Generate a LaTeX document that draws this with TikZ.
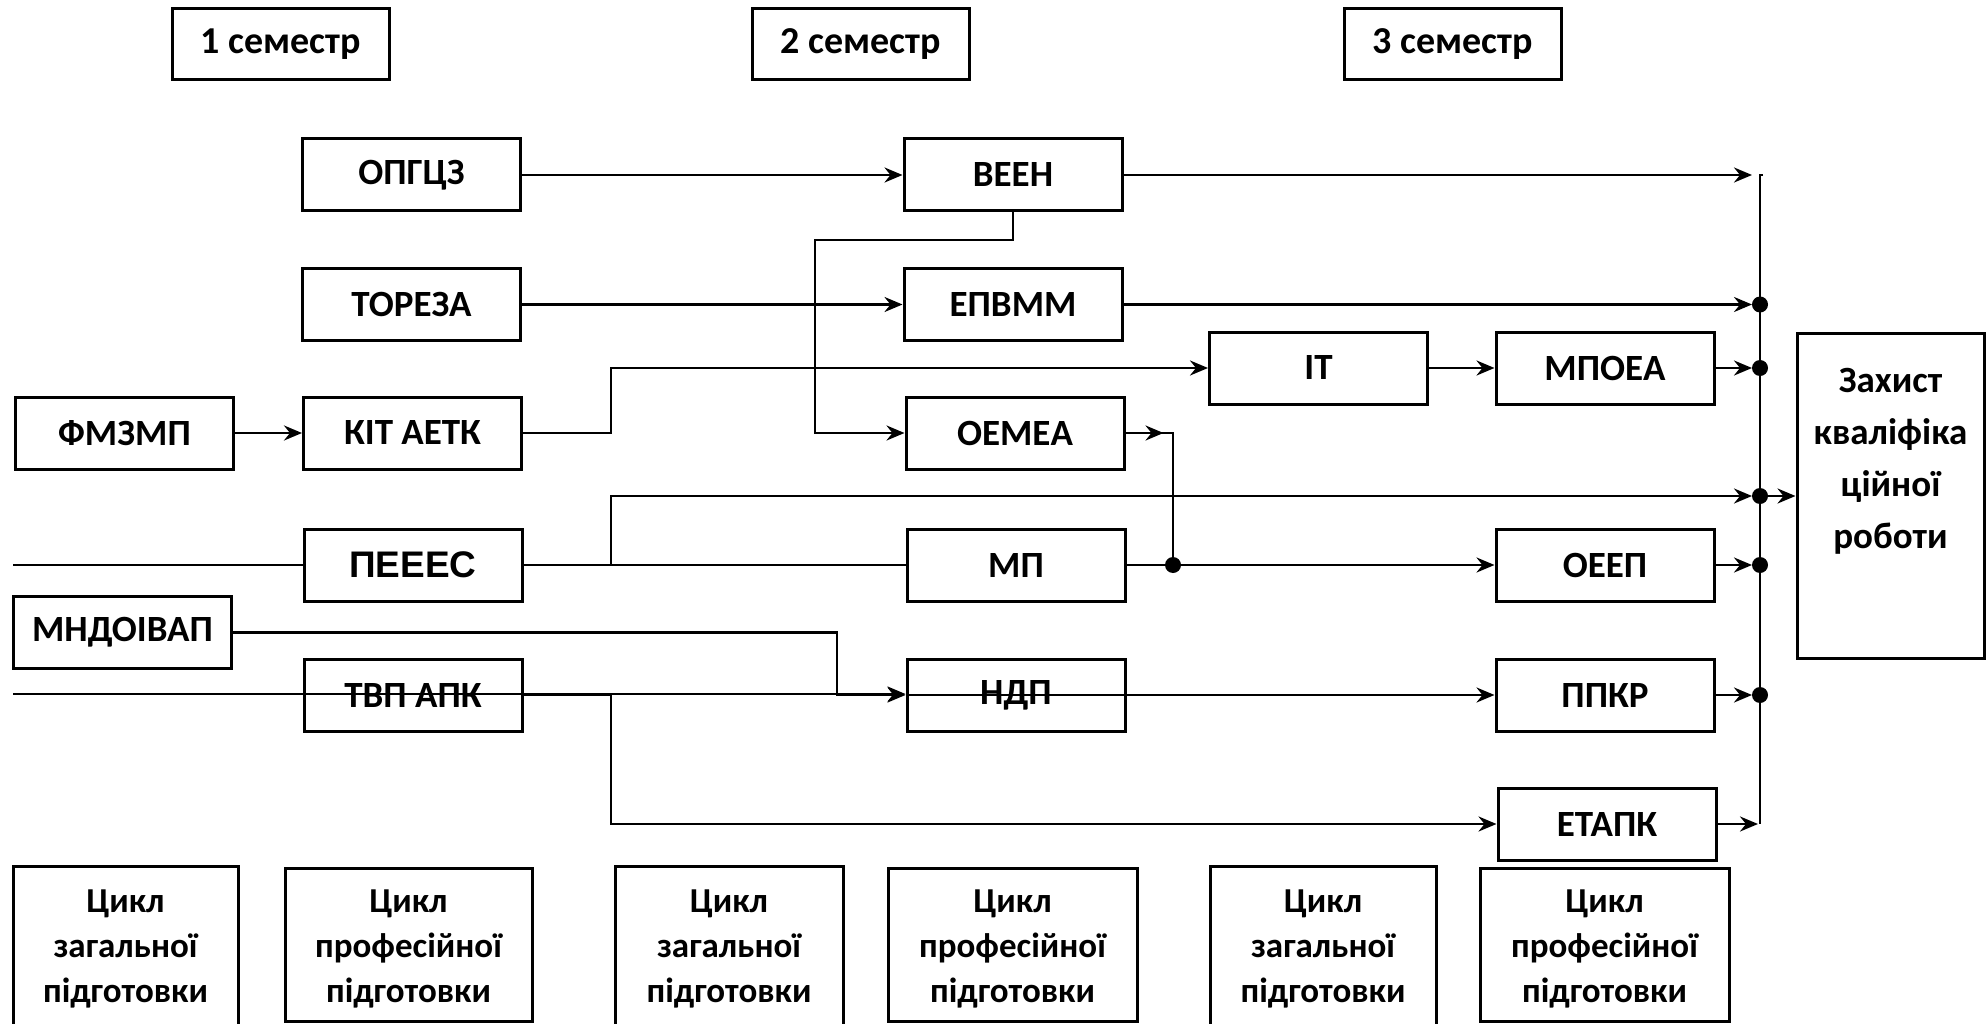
\documentclass[tikz,border=0pt]{standalone}
\usepackage{fontspec}
\setmainfont{Carlito}
\newfontfamily\arialfam{Liberation Sans}
\usetikzlibrary{arrows.meta}
\newcommand\myboxfont{\fontsize{37}{42}\selectfont\bfseries}
\newcommand\mysemfont{\fontsize{38}{42}\selectfont\bfseries}
\newcommand\mypeeesfont{\arialfam\fontsize{37}{42}\selectfont\bfseries}
\tikzset{
  box/.style={draw, line width=3pt, minimum width=218pt, minimum height=72pt, inner sep=0pt, font=\myboxfont},
  cyc/.style={draw, line width=3pt, inner sep=0pt, anchor=north},
  cyctxt/.style={font=\fontsize{35}{45}\selectfont\bfseries, align=center, inner sep=0pt, anchor=north},
  conn/.style={line width=2.8pt},
  arr/.style={conn, -{Stealth[length=18pt,width=15pt,inset=6pt]}},
  dotnode/.style={circle, fill=black, inner sep=0pt, minimum size=16pt}
}
\begin{document}
\begin{tikzpicture}[x=1pt,y=-1pt]
\useasboundingbox (0,0) rectangle (1988,1024);
% semester headers
\node[box, font=\mysemfont, minimum width=217pt, minimum height=71pt] (sem1) at (280.5,44.5) {1 семестр};
\node[box, font=\mysemfont, minimum width=217pt, minimum height=71pt] (sem2) at (860.5,44.5) {2 семестр};
\node[box, font=\mysemfont, minimum width=217pt, minimum height=71pt] (sem3) at (1452.5,44.5) {3 семестр};
% semester 1
\node[box] (opgcz) at (411.5,175) {ОПГЦЗ};
\node[box] (toreza) at (411.5,304.5) {ТОРЕЗА};
\node[box] (fmzmp) at (124.5,433) {ФМЗМП};
\node[box] (kit) at (412.5,433) {КІТ АЕТК};
\node[box, font=\mypeeesfont] (peees) at (413,565) {ПЕЕЕС};
\node[box] (mndoivap) at (122.5,632.5) {МНДОІВАП};
\node[box] (tvp) at (413,695) {ТВП АПК};
% semester 2
\node[box] (veen) at (1013,175) {ВЕЕН};
\node[box] (epvmm) at (1013,304.5) {ЕПВММ};
\node[box] (oemea) at (1015,433) {ОЕМЕА};
\node[box] (mp) at (1016,565) {МП};
\node[box] (ndp) at (1016,695) {НДП};
% semester 3
\node[box] (it) at (1318.5,368) {ІТ};
\node[box] (mpoea) at (1605,368) {МПОЕА};
\node[box] (oeep) at (1605,565) {ОЕЕП};
\node[box] (ppkr) at (1605,695) {ППКР};
\node[box] (etapk) at (1607,824) {ЕТАПК};
% final
\node[draw, line width=3pt, minimum width=187pt, minimum height=325pt, inner sep=0pt] (zakh) at (1890.5,495.5) {};
\node[font=\fontsize{37}{52}\selectfont\bfseries, align=center, inner sep=0pt, anchor=north] (zakhtxt) at (1890.5,368) {Захист\\кваліфіка\\ційної\\роботи};
% cycle boxes
\node[cyc, minimum width=225pt, minimum height=170pt] (c1) at (125.5,865) {};
\node[cyc, minimum width=247pt, minimum height=153pt] (c2) at (408.5,867) {};
\node[cyc, minimum width=228pt, minimum height=170pt] (c3) at (729,865) {};
\node[cyc, minimum width=249pt, minimum height=153pt] (c4) at (1012.5,867) {};
\node[cyc, minimum width=226pt, minimum height=170pt] (c5) at (1323,865) {};
\node[cyc, minimum width=249pt, minimum height=153pt] (c6) at (1604.5,867) {};
\node[cyctxt] (t1) at ([yshift=-25pt]c1.north) {Цикл\\загальної\\підготовки};
\node[cyctxt] (t2) at ([yshift=-23pt]c2.north) {Цикл\\професійної\\підготовки};
\node[cyctxt] (t3) at ([yshift=-25pt]c3.north) {Цикл\\загальної\\підготовки};
\node[cyctxt] (t4) at ([yshift=-23pt]c4.north) {Цикл\\професійної\\підготовки};
\node[cyctxt] (t5) at ([yshift=-25pt]c5.north) {Цикл\\загальної\\підготовки};
\node[cyctxt] (t6) at ([yshift=-23pt]c6.north) {Цикл\\професійної\\підготовки};
% helper coordinates
\coordinate (bus) at (1760,0);
\coordinate (j1) at (611,0);
\coordinate (j2) at (815,240);
\coordinate (j3) at (1173,0);
\coordinate (j4) at (837,0);
\coordinate (b4) at (1760,496);
\coordinate (inL1) at (13,565);
\coordinate (inL2) at (13,694);
% bus
\draw[conn] ([xshift=3pt]veen.east -| bus) -- (veen.east -| bus) -- (etapk.east -| bus);
% row 1
\draw[arr] (opgcz.east) -- (opgcz.east -| veen.west);
\draw[arr, shorten >=8pt] (veen.east) -- (veen.east -| bus);
% row 2
\draw[arr] (toreza.east) -- (toreza.east -| epvmm.west);
\draw[arr, shorten >=8pt] (epvmm.east) -- (epvmm.east -| bus);
% row 3
\draw[arr] (fmzmp.east) -- (kit.west);
\draw[arr] (kit.east) -- (kit.east -| j1) |- (it.west);
\draw[arr] (it.east) -- (mpoea.west);
\draw[arr, shorten >=8pt] (mpoea.east) -- (mpoea.east -| bus);
% veen -> oemea
\draw[arr] (veen.south) |- (j2) |- (oemea.west);
% oemea -> mp row
\draw[conn] (oemea.east) -- (oemea.east -| j3) -- (j3 |- mp.east);
\draw[arr] (oemea.east) -- ++(38,0);
% row peees / mp
\draw[conn] (inL1) -- (peees.west);
\draw[conn] (peees.east) -- (mp.west);
\draw[arr, shorten >=8pt] (peees.east) -- (peees.east -| j1) |- (b4);
\draw[arr] (b4) -- (b4 -| zakh.west);
\draw[arr] (mp.east) -- (mp.east -| oeep.west);
\draw[arr, shorten >=8pt] (oeep.east) -- (oeep.east -| bus);
% row mndoivap / tvp / ndp
\draw[arr] (mndoivap.east) -- (mndoivap.east -| j4) |- (ndp.west);
\draw[arr] (inL2) -- (inL2 -| ndp.west);
\draw[arr] (ndp.west) -- (ndp.west -| ppkr.west);
\draw[arr] (tvp.east) -- (tvp.east -| j1) |- (etapk.west);
\draw[arr, shorten >=8pt] (ppkr.east) -- (ppkr.east -| bus);
\draw[arr, shorten >=2pt] (etapk.east) -- (etapk.east -| bus);
% junction dots
\node[dotnode] (d1) at (epvmm.east -| bus) {};
\node[dotnode] (d2) at (mpoea.east -| bus) {};
\node[dotnode] (d3) at (b4) {};
\node[dotnode] (d4) at (oeep.east -| bus) {};
\node[dotnode] (d5) at (ppkr.east -| bus) {};
\node[dotnode] (d6) at (j3 |- mp.east) {};
\end{tikzpicture}
\end{document}
